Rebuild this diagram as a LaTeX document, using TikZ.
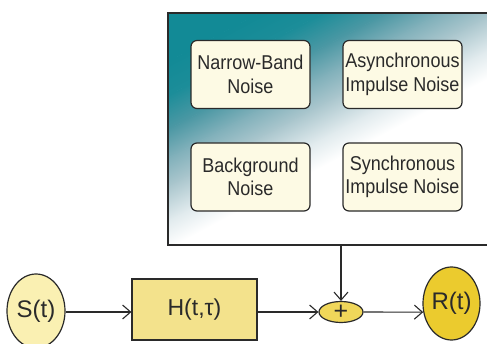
\documentclass[tikz,border=0pt]{standalone}
\usepackage{fontspec}
\setmainfont{Liberation Sans}
\usetikzlibrary{arrows.meta,shapes.geometric}

\definecolor{deepteal}{HTML}{128A96}
\definecolor{tealA}{HTML}{1C8D99}
\definecolor{tealB}{HTML}{4C98A4}
\definecolor{tealC}{HTML}{80B0BA}
\definecolor{tealD}{HTML}{AAC6CD}
\definecolor{mistteal}{HTML}{E0EAED}
\definecolor{creamfill}{HTML}{FDFAE4}
\definecolor{channelfill}{HTML}{F3E28C}
\definecolor{srcfill}{HTML}{FAF0B2}
\definecolor{rxfill}{HTML}{EBCB2E}
\definecolor{sumfill}{HTML}{F0D75A}
\definecolor{inkgray}{HTML}{2A2A2A}

\tikzset{
  noisesrc/.style={draw=inkgray, line width=1.2pt, rounded corners=6pt, fill=creamfill,
    minimum width=119pt, minimum height=68pt, inner sep=0pt, align=center,
    font=\addfontfeature{FakeStretch=0.9}\fontsize{20}{23.5}\selectfont, text=inkgray},
  sigoval/.style={draw=inkgray, line width=1.2pt, ellipse, inner sep=0pt,
    font=\fontsize{24}{28}\selectfont, text=inkgray},
  flow/.style={draw=inkgray, line width=1.1pt, -{Straight Barb[length=8pt,width=14pt,line width=1.1pt]}},
  band/.style 2 args={bottom color=#1, top color=#2},
}

\begin{document}
\begin{tikzpicture}[x=1pt, y=1pt]
\useasboundingbox (0,0) rectangle (487,343);
\begin{scope}
\clip (0,0) rectangle (487,343);

% noise environment panel (runs past the right edge)
\node[minimum width=327pt, minimum height=232pt, inner sep=0pt]
      (env) at (331.5,214) {};
\begin{scope}
  \clip (env.south west) rectangle (env.north east);
  % diagonal wash: bands laid out across a frame tilted by 28 degrees
  \begin{scope}[transform canvas={shift={(331.5,214)}, rotate=28}]
    \fill[white] (-400,-400) rectangle (400,-28.5);
    \shade[band={white}{mistteal}]  (-400,-29) rectangle (400,-3.5);
    \shade[band={mistteal}{tealD}]  (-400,-4)  rectangle (400,26.5);
    \shade[band={tealD}{tealC}]     (-400,26)  rectangle (400,51.5);
    \shade[band={tealC}{tealB}]     (-400,51)  rectangle (400,76.5);
    \shade[band={tealB}{tealA}]     (-400,76)  rectangle (400,106.5);
    \shade[band={tealA}{deepteal}]  (-400,106) rectangle (400,136.5);
    \fill[deepteal] (-400,136) rectangle (400,400);
  \end{scope}
\end{scope}
\draw[draw=inkgray, line width=1.6pt] (env.south west) rectangle (env.north east);

\node[noisesrc] (nb)    at (250.5,268.5) {Narrow-Band\\Noise};
\node[noisesrc] (async) at (402.5,268.5) {Asynchronous\\Impulse Noise};
\node[noisesrc] (bg)    at (250.5,166)   {Background\\Noise};
\node[noisesrc] (sync)  at (402.5,166)   {Synchronous\\Impulse Noise};

% signal chain
\node[sigoval, fill=srcfill, minimum width=58pt, minimum height=74pt] (src) at (36,32) {S(t)};
\node[draw=inkgray, line width=1.2pt, fill=channelfill, minimum width=125pt, minimum height=61pt,
      inner sep=0pt, font=\fontsize{23}{27}\selectfont, text=inkgray] (chan) at (194.5,33.5) {H(t,τ)};
\node[sigoval, fill=sumfill, minimum width=44pt, minimum height=21pt,
      font=\fontsize{25}{25}\selectfont] (sum) at (341,31) {+};
\node[sigoval, fill=rxfill, minimum width=57pt, minimum height=73pt] (rx) at (451.5,39.5) {R(t)};

\draw[flow] (src.east |- sum.west) -- (sum.west -| chan.west);
\draw[flow] (chan.east |- sum.west) -- (sum.west);
\draw[flow] (sum.east) -- (rx.197);
\draw[flow] (sum |- env.south) -- (sum.north);
\end{scope}
\end{tikzpicture}
\end{document}
